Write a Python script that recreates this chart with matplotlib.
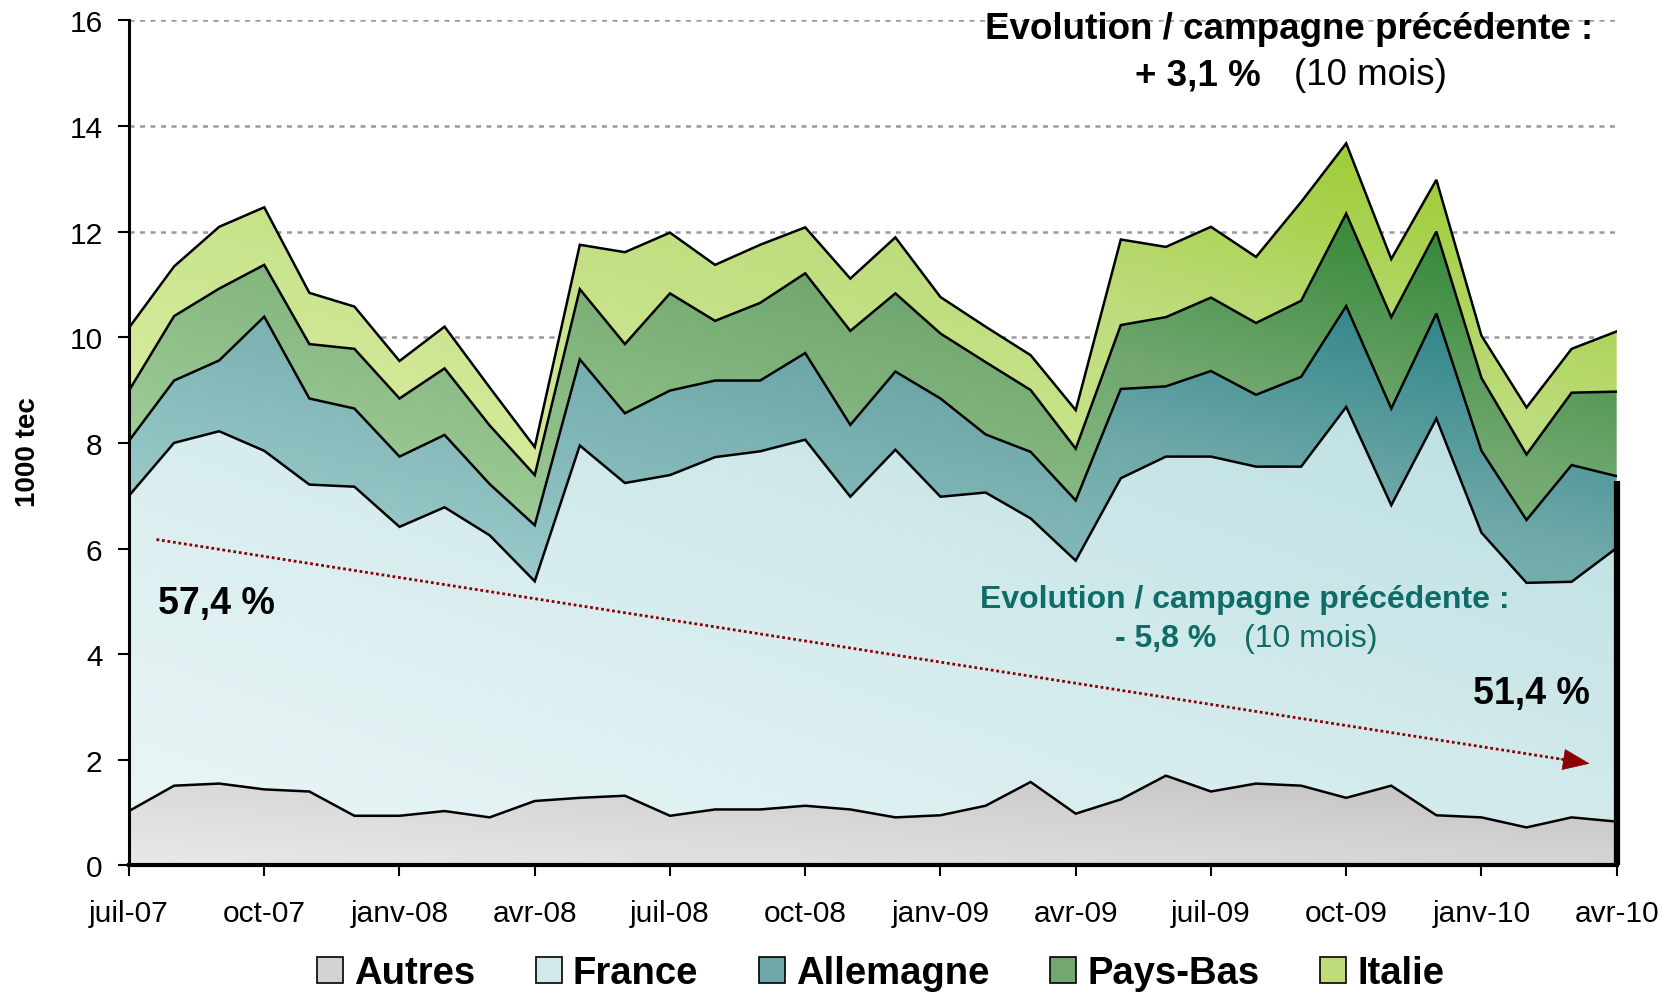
import matplotlib.pyplot as plt
import numpy as np
from matplotlib.colors import LinearSegmentedColormap
from matplotlib.patches import Patch

# monthly values, juil-07 .. avr-10 (1000 tec)
mois = np.arange(34)
tick_labels = ['juil-07', 'oct-07', 'janv-08', 'avr-08', 'juil-08', 'oct-08',
               'janv-09', 'avr-09', 'juil-09', 'oct-09', 'janv-10', 'avr-10']

autres = [1.03, 1.51, 1.55, 1.44, 1.40, 0.94, 0.94, 1.03, 0.91, 1.22, 1.28, 1.32,
          0.94, 1.06, 1.06, 1.13, 1.06, 0.91, 0.95, 1.13, 1.58, 0.98, 1.25, 1.70,
          1.40, 1.55, 1.51, 1.28, 1.51, 0.95, 0.91, 0.72, 0.91, 0.83]
france = [5.97, 6.49, 6.67, 6.41, 5.81, 6.23, 5.47, 5.75, 5.34, 4.16, 6.67, 5.92,
          6.45, 6.67, 6.78, 6.93, 5.92, 6.96, 6.03, 5.93, 4.99, 4.79, 6.08, 6.04,
          6.34, 6.00, 6.04, 7.40, 5.31, 7.51, 5.39, 4.63, 4.46, 5.18]
allemagne = [1.04, 1.18, 1.34, 2.54, 1.63, 1.48, 1.33, 1.37, 0.97, 1.06, 1.63, 1.32,
             1.60, 1.45, 1.34, 1.64, 1.36, 1.48, 1.86, 1.10, 1.26, 1.14, 1.69, 1.33,
             1.62, 1.36, 1.70, 1.91, 1.83, 1.99, 1.55, 1.19, 2.21, 1.36]
pays_bas = [0.95, 1.22, 1.36, 0.98, 1.03, 1.13, 1.10, 1.26, 1.11, 0.95, 1.33, 1.31,
            1.84, 1.13, 1.47, 1.51, 1.78, 1.48, 1.23, 1.37, 1.17, 0.98, 1.21, 1.31,
            1.39, 1.36, 1.44, 1.75, 1.73, 1.55, 1.38, 1.24, 1.37, 1.60]
italie = [1.19, 0.94, 1.17, 1.09, 0.97, 0.80, 0.71, 0.79, 0.72, 0.53, 0.84, 1.74,
          1.15, 1.06, 1.10, 0.87, 0.99, 1.06, 0.69, 0.67, 0.66, 0.73, 1.62, 1.33,
          1.34, 1.25, 1.87, 1.33, 1.10, 0.98, 0.80, 0.89, 0.83, 1.14]

noms = ['Autres', 'France', 'Allemagne', 'Pays-Bas', 'Italie']
series = [autres, france, allemagne, pays_bas, italie]
couleurs = [['#e9e9e9', '#d3d3d3', '#c0c0c0'],
            ['#eaf6f7', '#d0e9eb', '#bbdfe2'],
            ['#a9d4d5', '#6ea8a8', '#217d82'],
            ['#abd5a2', '#72a870', '#237f28'],
            ['#ddefa7', '#bddc7b', '#94c720']]

FONT = ['Liberation Sans', 'DejaVu Sans']
TEAL = '#0f6c67'

fig = plt.figure(figsize=(16.71, 9.95), dpi=100)
ax = fig.add_axes([0.0772, 0.1292, 0.8903, 0.8494])
ax.set_xlim(0, 33)
ax.set_ylim(0, 16)

for y in range(2, 17, 2):
    ax.axhline(y, color='#999999', lw=1.8, dashes=(2, 2.2), zorder=0)

gx, gy = np.meshgrid(np.linspace(0, 33, 400), np.linspace(0, 16, 600))
bas = np.zeros(len(mois))
for nom, vals, cols in zip(noms, series, couleurs):
    haut = bas + np.array(vals)
    poly = ax.fill_between(mois, bas, haut, facecolor='none', edgecolor='none', zorder=2)
    ymin, ymax = bas.min(), haut.max()
    t = 0.55 * gx / 33 + 0.45 * np.clip((gy - ymin) / (ymax - ymin), 0, 1)
    cmap = LinearSegmentedColormap.from_list(nom, [(0, cols[0]), (0.6, cols[1]), (1, cols[2])])
    img = ax.imshow(cmap(np.clip(t, 0, 1)), extent=[0, 33, 0, 16], origin='lower',
                    aspect='auto', zorder=2, interpolation='bilinear')
    img.set_clip_path(poly.get_paths()[0], transform=ax.transData)
    ax.plot(mois, haut, color='black', lw=1.8, zorder=3, solid_joinstyle='miter')
    bas = haut

# thick mark on the last month
ax.plot([33, 33], [0, 7.28], color='black', lw=4.5, zorder=4, clip_on=False,
        solid_capstyle='butt')

# trend arrow
x0, y0, x1, y1 = 0.61, 6.17, 32.46, 1.92
ax.plot([x0, x1 - 0.4], [y0, y0 + (y1 - y0) * (x1 - 0.4 - x0) / (x1 - x0)],
        color='#8b0000', lw=2, linestyle=(0, (1, 1)), zorder=5)
ax.annotate('', xy=(x1, y1), xytext=(x1 - 0.8, y1 + 0.8 * (y0 - y1) / (x1 - x0)),
            arrowprops=dict(arrowstyle='-|>,head_length=0.7,head_width=0.28',
                            color='#8b0000', lw=0.5, mutation_scale=26), zorder=5)

ax.text(25.74, 15.84, 'Evolution / campagne précédente :', ha='center', va='center',
        fontsize=26.5, fontweight='bold', family=FONT, zorder=6)
ax.text(25.11, 14.97, '+ 3,1 %', ha='right', va='center', fontsize=26.5,
        fontweight='bold', family=FONT, zorder=6)
ax.text(25.84, 14.97, '(10 mois)', ha='left', va='center', fontsize=26.5,
        family=FONT, zorder=6)

ax.text(24.75, 5.04, 'Evolution / campagne précédente :', ha='center', va='center',
        fontsize=23, fontweight='bold', color=TEAL, family=FONT, zorder=6)
ax.text(24.11, 4.30, '- 5,8 %', ha='right', va='center', fontsize=23,
        fontweight='bold', color=TEAL, family=FONT, zorder=6)
ax.text(24.73, 4.30, '(10 mois)', ha='left', va='center', fontsize=23,
        color=TEAL, family=FONT, zorder=6)

ax.text(0.64, 4.96, '57,4 %', ha='left', va='center', fontsize=27,
        fontweight='bold', family=FONT, zorder=6)
ax.text(32.41, 3.27, '51,4 %', ha='right', va='center', fontsize=27,
        fontweight='bold', family=FONT, zorder=6)

ax.set_xticks(mois[::3])
ax.set_xticklabels(tick_labels, fontsize=21.5, family=FONT)
ax.set_yticks(range(0, 17, 2))
ax.tick_params(axis='y', labelsize=21.5, direction='out', length=8, width=1.5, pad=11)
ax.tick_params(axis='x', direction='out', length=8, width=1.5, pad=16)
for lab in ax.get_yticklabels():
    lab.set_family(FONT)
for side in ['top', 'right']:
    ax.spines[side].set_visible(False)
ax.spines['left'].set_linewidth(2.2)
ax.spines['bottom'].set_linewidth(3)
ax.spines['left'].set_zorder(6)
ax.spines['bottom'].set_zorder(6)

fig.text(0.017, 0.546, '1000 tec', rotation=90, ha='center', va='center',
         fontsize=20, fontweight='bold', family=FONT)

handles = [Patch(facecolor=c[1], edgecolor='black', lw=1.2) for c in couleurs]
fig.legend(handles, noms, loc='center', bbox_to_anchor=(0.527, 0.021), ncol=5,
           frameon=False, handlelength=0.68, handleheight=0.68, handletextpad=0.28,
           columnspacing=1.6, prop=dict(family=FONT, weight='bold', size=27.5))

fig.savefig('out.png', dpi=100)
